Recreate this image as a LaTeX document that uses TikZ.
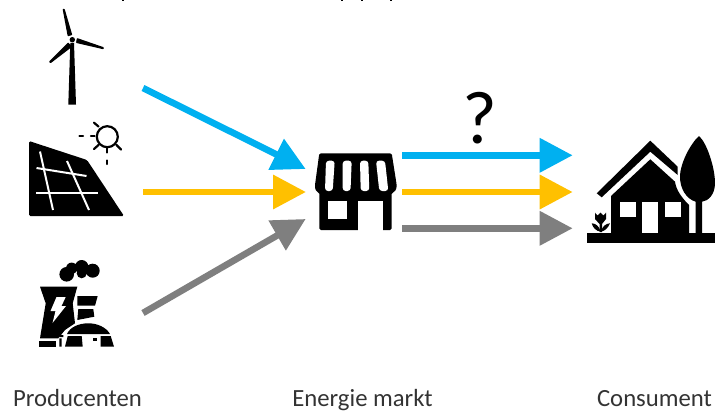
\documentclass[tikz,border=0pt]{standalone}
\usepackage{fontspec}
\setmainfont{Carlito}
\usetikzlibrary{arrows.meta}
\definecolor{cblue}{RGB}{0,176,240}
\definecolor{corange}{RGB}{255,192,0}
\definecolor{cgray}{RGB}{127,127,127}
\tikzset{
  flow/.style={line width=6.6pt,-{Triangle[length=33pt,width=33pt]}},
  lab/.style={font=\fontsize{24.7}{28}\selectfont,anchor=base,inner sep=0pt,text=black!80},
  gap/.style={draw=white,line width=2pt},
  ray/.style={draw=black,line width=2.2pt,line cap=round}
}
\begin{document}
\begin{tikzpicture}[x=1pt,y=-1pt]
\useasboundingbox (0,0) rectangle (715,412);
% cut-off line of text at the top
\foreach \mx in {123,342,362,391}{\fill[black] (\mx-1,0) rectangle (\mx+1,1.3);}
% turbine
\fill (68.3,104.5) -- (76,104.5) -- (74,43) -- (70.3,43) -- cycle;
\fill[rounded corners=.7pt] (62.6,9) -- (64.6,8.8) -- (72.3,35) -- (67.7,36.3) -- cycle;
\fill[rounded corners=.7pt] (103.9,47.3) -- (103.6,49.3) -- (76,42.9) -- (76.9,38) -- cycle;
\fill[rounded corners=.7pt] (48.9,61.6) -- (50.5,63.3) -- (71.9,46.9) -- (68.3,42.4) -- cycle;
\fill (72.3,39.7) circle (2.7);
% solar panel
\fill[rounded corners=1.5pt] (29,141) -- (87,160) -- (124,216) -- (29,216) -- cycle;
\draw[gap] (40,151.5) -- (53,210);
\draw[gap] (67,161) -- (89,210);
\draw[gap] (36.5,168) -- (86.5,176);
\draw[gap] (36,193.3) -- (97.5,193.3);
\draw[draw=black,line width=2.2pt] (107.3,136.7) circle (10.5);
\foreach \a/\b/\c/\d in {94/122.7/98.5/126.5, 94/149/98.5/145, 107.3/148.5/107.3/152.5, 116.5/145/121/149.5, 79.5/136/83/136, 91/136/94.5/136, 107.3/160.5/107.3/164}
  \draw[ray] (\a,\b) -- (\c,\d);
% power plant
\fill (66.7,274.3) circle (7.3) (71.7,268.3) circle (5.7) (81.7,266.7) circle (6.7) (92.7,270.7) circle (7) (81.7,273.3) circle (5);
\fill (40,286.7) -- (77.3,286.7) -- (72.7,303.3) -- (75,323.3) -- (65,330) -- (58.3,338.3) -- (40,338.3) -- (45.7,303.3) -- cycle;
\fill[white] (56.5,297) -- (65.7,297) -- (61.5,306) -- (66,306) -- (52.5,323) -- (55.5,311) -- (50.5,311) -- cycle;
\fill (77.3,296) -- (97.7,296) -- (95,305.7) -- (77.3,305.7) -- cycle;
\fill (78.3,309) -- (93.3,309) -- (94.3,316.7) -- (77.3,320) -- cycle;
\fill (67,334) .. controls (70,327) and (79,323.3) .. (88.3,323.3) .. controls (97,323.3) and (106,327) .. (110,334) -- cycle;
\fill (39.3,340.7) rectangle (56,346.7);
\fill (67.7,336) -- (81.7,336) -- (82.7,346.7) -- (65,346.7) -- cycle;
\fill (100.7,336) -- (110.7,336) -- (114,346.7) -- (100.7,346.7) -- cycle;
\fill (92.7,338.3) rectangle (96.7,340.7);
\fill (59.3,335) rectangle (63.3,337) (59.3,338.3) rectangle (61.7,346.7);
% shop
\fill[rounded corners=1.5pt] (319.3,153.3) -- (391.7,153.3) -- (396.7,185) .. controls (396.5,190) and (394,192.3) .. (391.7,192.3) -- (391.7,230) -- (319.3,230) -- (319.3,192.3) .. controls (317,192) and (315,190) .. (315,185) -- cycle;
\fill[white,rounded corners=3pt] (326,160.7) -- (334.7,160.7) -- (332.7,191) -- (325,191) -- cycle;
\fill[white,rounded corners=3pt] (342.7,160.7) -- (351.7,160.7) -- (350.5,191) -- (342.7,191) -- cycle;
\fill[white,rounded corners=3pt] (360,160.7) -- (368.3,160.7) -- (369.3,191) -- (360.7,191) -- cycle;
\fill[white,rounded corners=3pt] (376,160.7) -- (385,160.7) -- (388.3,191) -- (379.3,191) -- cycle;
\fill[white] (328.3,201) rectangle (346.7,219.3);
\fill[white] (358.3,201) rectangle (382.7,230.5);
% house
\fill (596.7,193.3) -- (650.3,140.7) -- (677.7,166.7) -- (677.7,175) -- (650.3,151.7) -- (601.7,197.3) -- cycle;
\fill (611,196) -- (650.3,159.3) -- (675,181.7) .. controls (676,190) and (682,198) .. (689,205) -- (689,233) -- (611,233) -- cycle;
\fill[white] (620,201.7) rectangle (635.7,216.7);
\fill[white] (642.3,201.7) rectangle (657.7,233);
\fill[white] (665,201.7) rectangle (681,216.7);
\fill (699,136) .. controls (707,143) and (715,168) .. (715,183) .. controls (715,195) and (708,201) .. (702,201.7) -- (702,233) -- (695.7,233) -- (695.7,201.7) .. controls (686,199) and (680,188) .. (680,177) .. controls (680,163) and (691,143) .. (699,136) -- cycle;
\fill (587,233) rectangle (715,243);
\fill (595,212.7) -- (597.5,215.5) -- (600.5,212.7) -- (603.5,215.5) -- (606,212.7) -- (606,219) -- (602,224) -- (602,232) -- (599.5,232) -- (599.5,224) -- (595,219) -- cycle;
\fill (591.7,223.3) .. controls (596,223.5) and (599,226) .. (600.7,231.7) .. controls (596,231) and (593,228) .. (591.7,223.3) -- cycle;
\fill (610,223.3) .. controls (606,223.5) and (602.5,226) .. (600.7,231.7) .. controls (605,231) and (608,228) .. (610,223.3) -- cycle;
% arrows
\coordinate (wind) at (143,88);
\coordinate (sun) at (143,192);
\coordinate (plant) at (143,313);
\coordinate (marktA) at (305.7,169);
\coordinate (marktB) at (306,192);
\coordinate (marktC) at (305.7,219);
\coordinate (outA) at (402,155.3);
\coordinate (outB) at (402,192);
\coordinate (outC) at (402,228.3);
\coordinate (conA) at (572.7,155.3);
\coordinate (conB) at (572.7,192);
\coordinate (conC) at (572.7,228.3);
\draw[flow,cblue] (wind) -- (marktA);
\draw[flow,corange] (sun) -- (marktB);
\draw[flow,cgray] (plant) -- (marktC);
\draw[flow,cblue] (outA) -- (conA);
\draw[flow,corange] (outB) -- (conB);
\draw[flow,cgray] (outC) -- (conC);
% labels
\node[font=\fontsize{75}{78}\selectfont,anchor=base,inner sep=0pt,text=black] (q) at (479.5,143) {?};
\node[lab] (prod) at (77.5,406.8) {Producenten};
\node[lab] (mark) at (362.5,406.8) {Energie markt};
\node[lab] (cons) at (654.5,406.8) {Consument};
\end{tikzpicture}
\end{document}
